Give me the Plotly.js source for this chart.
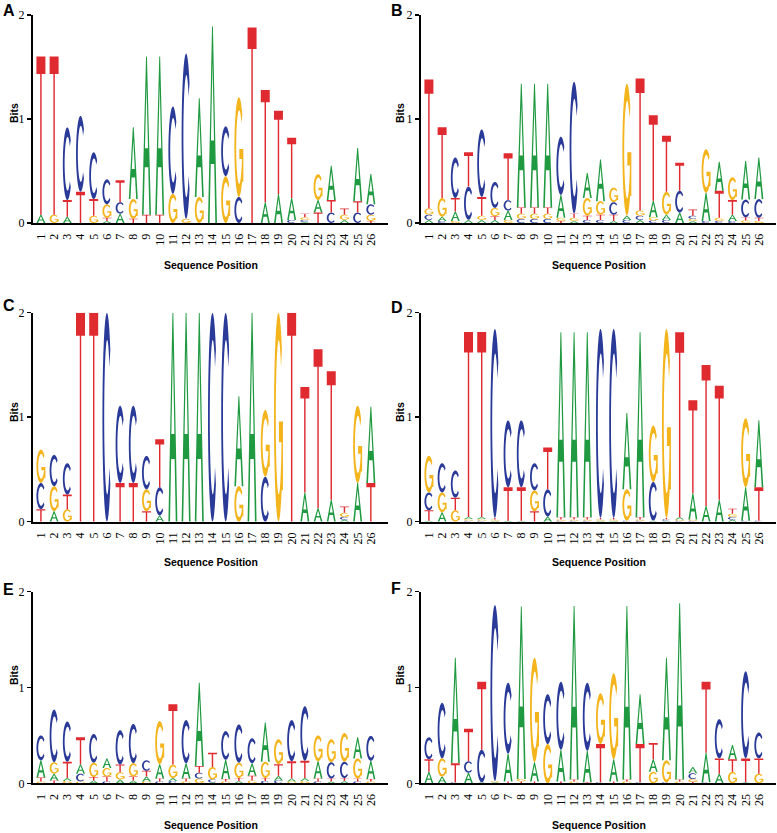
<!DOCTYPE html>
<html><head><meta charset="utf-8">
<script src="https://cdn.plot.ly/plotly-3.0.1.min.js"></script>
<style>html,body{margin:0;padding:0;background:#fff}#chart{width:777px;height:833px}</style>
</head><body><div id="chart"></div>
<script>
// ---------- DATA (bits per nucleotide at each position) ----------
const positions = [1,2,3,4,5,6,7,8,9,10,11,12,13,14,15,16,17,18,19,20,21,22,23,24,25,26];
const tickLabels = ['1','2','3','4','5','6','7','8','9','10','11','12','13','14','15','16','17','18','19','20','21','22','23','24','25','26'];
const panelNames = ['A','B','C','D','E','F'];

// Panel A
const A_A = [0.08,0,0.06,0,0,0.02,0.09,0.69,1.52,1.52,0,0,0.95,1.89,0,0,0,0.20,0.28,0.21,0.01,0.12,0.33,0.03,0.51,0.29];
const A_C = [0,0,0.70,0.73,0.45,0.24,0.11,0,0,0,0.84,1.59,0,0,0.48,0.25,0,0,0,0.03,0.02,0,0.10,0,0.10,0.10];
const A_G = [0,0.08,0,0,0.07,0.13,0,0.19,0,0,0.28,0.04,0.25,0,0.45,0.96,0,0,0,0,0.025,0.25,0,0.05,0,0.06];
const A_T = [1.52,1.52,0.16,0.30,0.16,0.03,0.21,0.04,0.08,0.08,0,0,0,0,0,0,1.88,1.08,0.80,0.58,0.035,0.10,0.12,0.06,0.11,0.02];
// Panel B
const B_A = [0.03,0.04,0.09,0.03,0.03,0.03,0.09,1.19,1.19,1.19,0.22,0.02,0.24,0.40,0.02,0.04,0.03,0.16,0.05,0.10,0.02,0.27,0.28,0.06,0.37,0.40];
const B_C = [0.05,0.02,0.39,0.32,0.65,0.25,0.10,0.04,0.04,0.04,0.56,1.27,0.03,0.03,0.12,0.03,0.04,0.025,0.03,0.21,0.03,0.02,0.02,0.02,0.17,0.18];
const B_G = [0.06,0.18,0.02,0,0.04,0.08,0.03,0.05,0.05,0.05,0.03,0.03,0.17,0.13,0.14,1.27,0.05,0.03,0.22,0,0.02,0.42,0.03,0.22,0.025,0.02];
const B_T = [1.24,0.68,0.13,0.33,0.18,0.035,0.45,0.06,0.06,0.06,0.02,0.04,0.04,0.05,0.06,0,1.27,0.82,0.54,0.27,0.06,0,0.26,0.14,0.03,0.03];
// Panel C
const C_A = [0,0.10,0,0,0,0,0,0,0,0.06,2.0,2.0,2.0,0,0,0.86,2.0,0,0,0,0.28,0.13,0.21,0.02,0.37,0.73];
const C_C = [0.25,0.30,0.30,0,0,2.0,0.74,0.74,0.32,0.27,0,0,0,2.0,2.0,0,0,0.43,0,0,0,0,0,0.025,0,0];
const C_G = [0.32,0.24,0.12,0,0,0,0,0,0.21,0,0,0,0,0,0,0.34,0,0.64,2.0,0,0,0,0,0.04,0.74,0];
const C_T = [0.12,0,0.14,2.0,2.0,0,0.37,0.37,0.10,0.46,0,0,0,0,0,0,0,0,0,2.0,1.01,1.52,1.23,0.06,0,0.37];
// Panel D
const D_A = [0.01,0.09,0,0.02,0.02,0.01,0.01,0.01,0,0.05,1.77,1.77,1.77,0.01,0.01,0.73,1.77,0.01,0.01,0.02,0.25,0.15,0.21,0.02,0.32,0.64];
const D_C = [0.17,0.28,0.26,0.01,0.01,1.81,0.64,0.64,0.26,0.26,0.01,0.01,0.01,1.81,1.81,0.01,0.01,0.37,0.012,0.01,0.01,0,0,0.025,0.01,0.01];
const D_G = [0.35,0.19,0.11,0.015,0.015,0.012,0,0,0.20,0,0.012,0.012,0.012,0.012,0.012,0.30,0.012,0.54,1.81,0.012,0.012,0,0,0.03,0.66,0];
const D_T = [0.10,0,0.12,1.77,1.77,0.014,0.32,0.32,0.10,0.40,0.02,0.02,0.02,0.014,0.014,0,0.02,0,0.014,1.77,0.89,1.35,1.09,0.05,0,0.32];
// Panel E
const E_A = [0.18,0.07,0.03,0.10,0.03,0.10,0.04,0.03,0.05,0.15,0.03,0.16,0.87,0.01,0.20,0.025,0.13,0.41,0.05,0.03,0.03,0.18,0.02,0.025,0.22,0.19];
const E_C = [0.26,0.55,0.42,0.08,0.30,0.02,0.36,0.41,0.11,0.02,0.025,0.45,0.06,0.03,0.30,0.40,0.26,0.025,0.03,0.43,0.57,0.02,0.17,0.17,0.02,0.26];
const E_G = [0.02,0.12,0.025,0.02,0.15,0.09,0.075,0.14,0.02,0.45,0.14,0.02,0.05,0.13,0.02,0.16,0.03,0.17,0.26,0.02,0.025,0.27,0.24,0.30,0.21,0.02];
const E_T = [0.04,0.03,0.17,0.28,0.035,0.05,0.08,0.04,0.06,0.03,0.63,0.03,0.07,0.15,0.025,0.03,0.05,0.03,0.12,0.18,0.18,0.03,0.03,0.03,0.03,0.025];
// Panel F
const F_A = [0.12,0.07,1.10,0.11,0.01,0.01,0.29,1.80,0.20,0,0.33,1.81,0.33,0,0.23,1.81,0.52,0.13,1.07,1.84,0.065,0.31,0.10,0.15,0.01,0];
const F_C = [0.23,0.58,0.01,0.12,0.34,1.84,0.74,0,0,0.52,0.71,0,0.71,0.01,0,0,0.01,0,0.01,0,0.06,0.01,0.41,0,0.91,0.27];
const F_G = [0,0.19,0,0,0,0.012,0,0.025,1.09,0.41,0,0.02,0,0.53,0.90,0.02,0,0.12,0.23,0.02,0.03,0,0,0.12,0,0.10];
const F_T = [0.13,0,0.20,0.34,0.71,0,0.02,0.02,0.02,0,0.02,0.02,0.01,0.40,0.02,0.02,0.40,0.17,0,0.02,0.015,0.74,0.16,0.13,0.25,0.16];

// ---------- STYLE ----------
const letterColors = {A:'#1f9a40', C:'#2a3a98', G:'#f4b41c', T:'#df2a30'};
const panelData = [
  {A:A_A,C:A_C,G:A_G,T:A_T},{A:B_A,C:B_C,G:B_G,T:B_T},
  {A:C_A,C:C_C,G:C_G,T:C_T},{A:D_A,C:D_C,G:D_G,T:D_T},
  {A:E_A,C:E_C,G:E_G,T:E_T},{A:F_A,C:F_C,G:F_G,T:F_T}
];
const W = 777, H = 833;
const xDomLeft = [33/W, 388/W], xDomRight = [421/W, 776/W];
const yDoms = [[1-223/H, 1-15/H],[1-521.7/H, 1-312.7/H],[1-783.3/H, 1-591.7/H]];

// ---------- GLYPHS in unit box (u right, v up) ----------
function arc(cx,cy,rx,ry,a0,a1,n){const p=[];for(let i=0;i<=n;i++){const a=(a0+(a1-a0)*i/n)*Math.PI/180;p.push([cx+rx*Math.cos(a),cy+ry*Math.sin(a)]);}return p;}
const glyphs = {
  A:{rule:'evenodd', rings:[
    [[0,0],[0.45,1],[0.55,1],[1,0],[0.82,0],[0.694,0.3],[0.306,0.3],[0.18,0]],
    [[0.33,0.42],[0.67,0.42],[0.5,0.82]]]},
  C:{rule:'nonzero', rings:[arc(0.5,0.5,0.5,0.5,40,320,30).concat(arc(0.53,0.5,0.33,0.37,320,40,30))]},
  G:{rule:'nonzero', rings:[
    arc(0.5,0.5,0.5,0.5,40,352,30).concat(arc(0.53,0.5,0.33,0.37,352,40,30)),
    [[0.55,0.38],[1,0.38],[1,0.48],[0.55,0.48]],
    [[0.84,0.15],[1,0.15],[1,0.48],[0.84,0.48]]]},
  T:{rule:'nonzero', rings:[[[0.42,0],[0.58,0],[0.58,0.89],[1,0.89],[1,1],[0,1],[0,0.89],[0.42,0.89]]]}
};
const LW = 0.68;

const shapes = [], traces = [], annotations = [];
const layout = {width:W, height:H, margin:{l:0,r:0,t:0,b:0}, paper_bgcolor:'#fff', plot_bgcolor:'rgba(0,0,0,0)', showlegend:false};

panelData.forEach((pd, k) => {
  const n = k+1, xa = n===1?'x':'x'+n, ya = n===1?'y':'y'+n;
  const col = k%2, row = Math.floor(k/2);
  layout[n===1?'xaxis':'xaxis'+n] = {
    domain: col===0?xDomLeft:xDomRight, range:[0.4,27.3], anchor: ya,
    tickmode:'array', tickvals: positions, ticktext: tickLabels, tickangle:-90,
    showline:true, linecolor:'#000', linewidth:2, showgrid:false, zeroline:false,
    ticks:'outside', ticklen:4, tickcolor:'rgba(0,0,0,0)',
    tickfont:{family:'Liberation Serif', size:12, color:'#000'}, fixedrange:true
  };
  layout[n===1?'yaxis':'yaxis'+n] = {
    domain: yDoms[row], range:[0,2], anchor: xa,
    tickmode:'array', tickvals:[0,1,2], ticktext:['0','1','2'],
    showline:true, linecolor:'#000', linewidth:2, showgrid:false, zeroline:false,
    ticks:'outside', ticklen:4, tickwidth:1.5, tickcolor:'#000',
    tickfont:{family:'Liberation Serif', size:12, color:'#000'}, fixedrange:true
  };
  const totals = [];
  positions.forEach((pos, i) => {
    const items = ['A','C','G','T'].map(L => ({L, h: pd[L][i]})).filter(o => o.h > 0.004);
    items.sort((a,b) => a.h - b.h);
    let base = 0;
    items.forEach(o => {
      const g = glyphs[o.L];
      const path = g.rings.map(r => 'M' + r.map(([u,v]) =>
        (pos - LW/2 + u*LW).toFixed(4) + ',' + (base + v*o.h).toFixed(5)).join('L') + 'Z').join('');
      shapes.push({type:'path', xref:xa, yref:ya, path, fillcolor:letterColors[o.L], line:{width:0}, fillrule:g.rule, layer:'above'});
      base += o.h;
    });
    totals.push(base);
  });
  traces.push({type:'scatter', mode:'markers', x:positions, y:totals, xaxis:xa, yaxis:ya,
    marker:{opacity:0, size:1}, hoverinfo:'skip', showlegend:false});
});

// titles and panel letters
const seqY = [265, 562, 825], bitsY = [113, 412, 675];
const letterPos = [[9,11],[397,11],[9,306],[397,307],[8,589],[396,588]];
for (let k=0;k<6;k++){
  const col=k%2,row=Math.floor(k/2);
  annotations.push({xref:'paper',yref:'paper',x:(col===0?211:598.5)/W,y:1-seqY[row]/H,text:'Sequence Position',showarrow:false,
    xanchor:'center',yanchor:'middle',font:{family:'Liberation Sans',size:10.5,color:'#000',weight:'bold'}});
  annotations.push({xref:'paper',yref:'paper',x:(col===0?14:400)/W,y:1-bitsY[row]/H,text:'Bits',showarrow:false,textangle:-90,
    xanchor:'center',yanchor:'middle',font:{family:'Liberation Sans',size:10.5,color:'#000',weight:'bold'}});
  annotations.push({xref:'paper',yref:'paper',x:letterPos[k][0]/W,y:1-letterPos[k][1]/H,text:'<b>'+panelNames[k]+'</b>',showarrow:false,
    xanchor:'center',yanchor:'middle',font:{family:'Liberation Sans',size:16,color:'#000'}});
}
layout.shapes = shapes;
layout.annotations = annotations;
Plotly.newPlot('chart', traces, layout, {staticPlot:true, displayModeBar:false});
</script></body></html>
